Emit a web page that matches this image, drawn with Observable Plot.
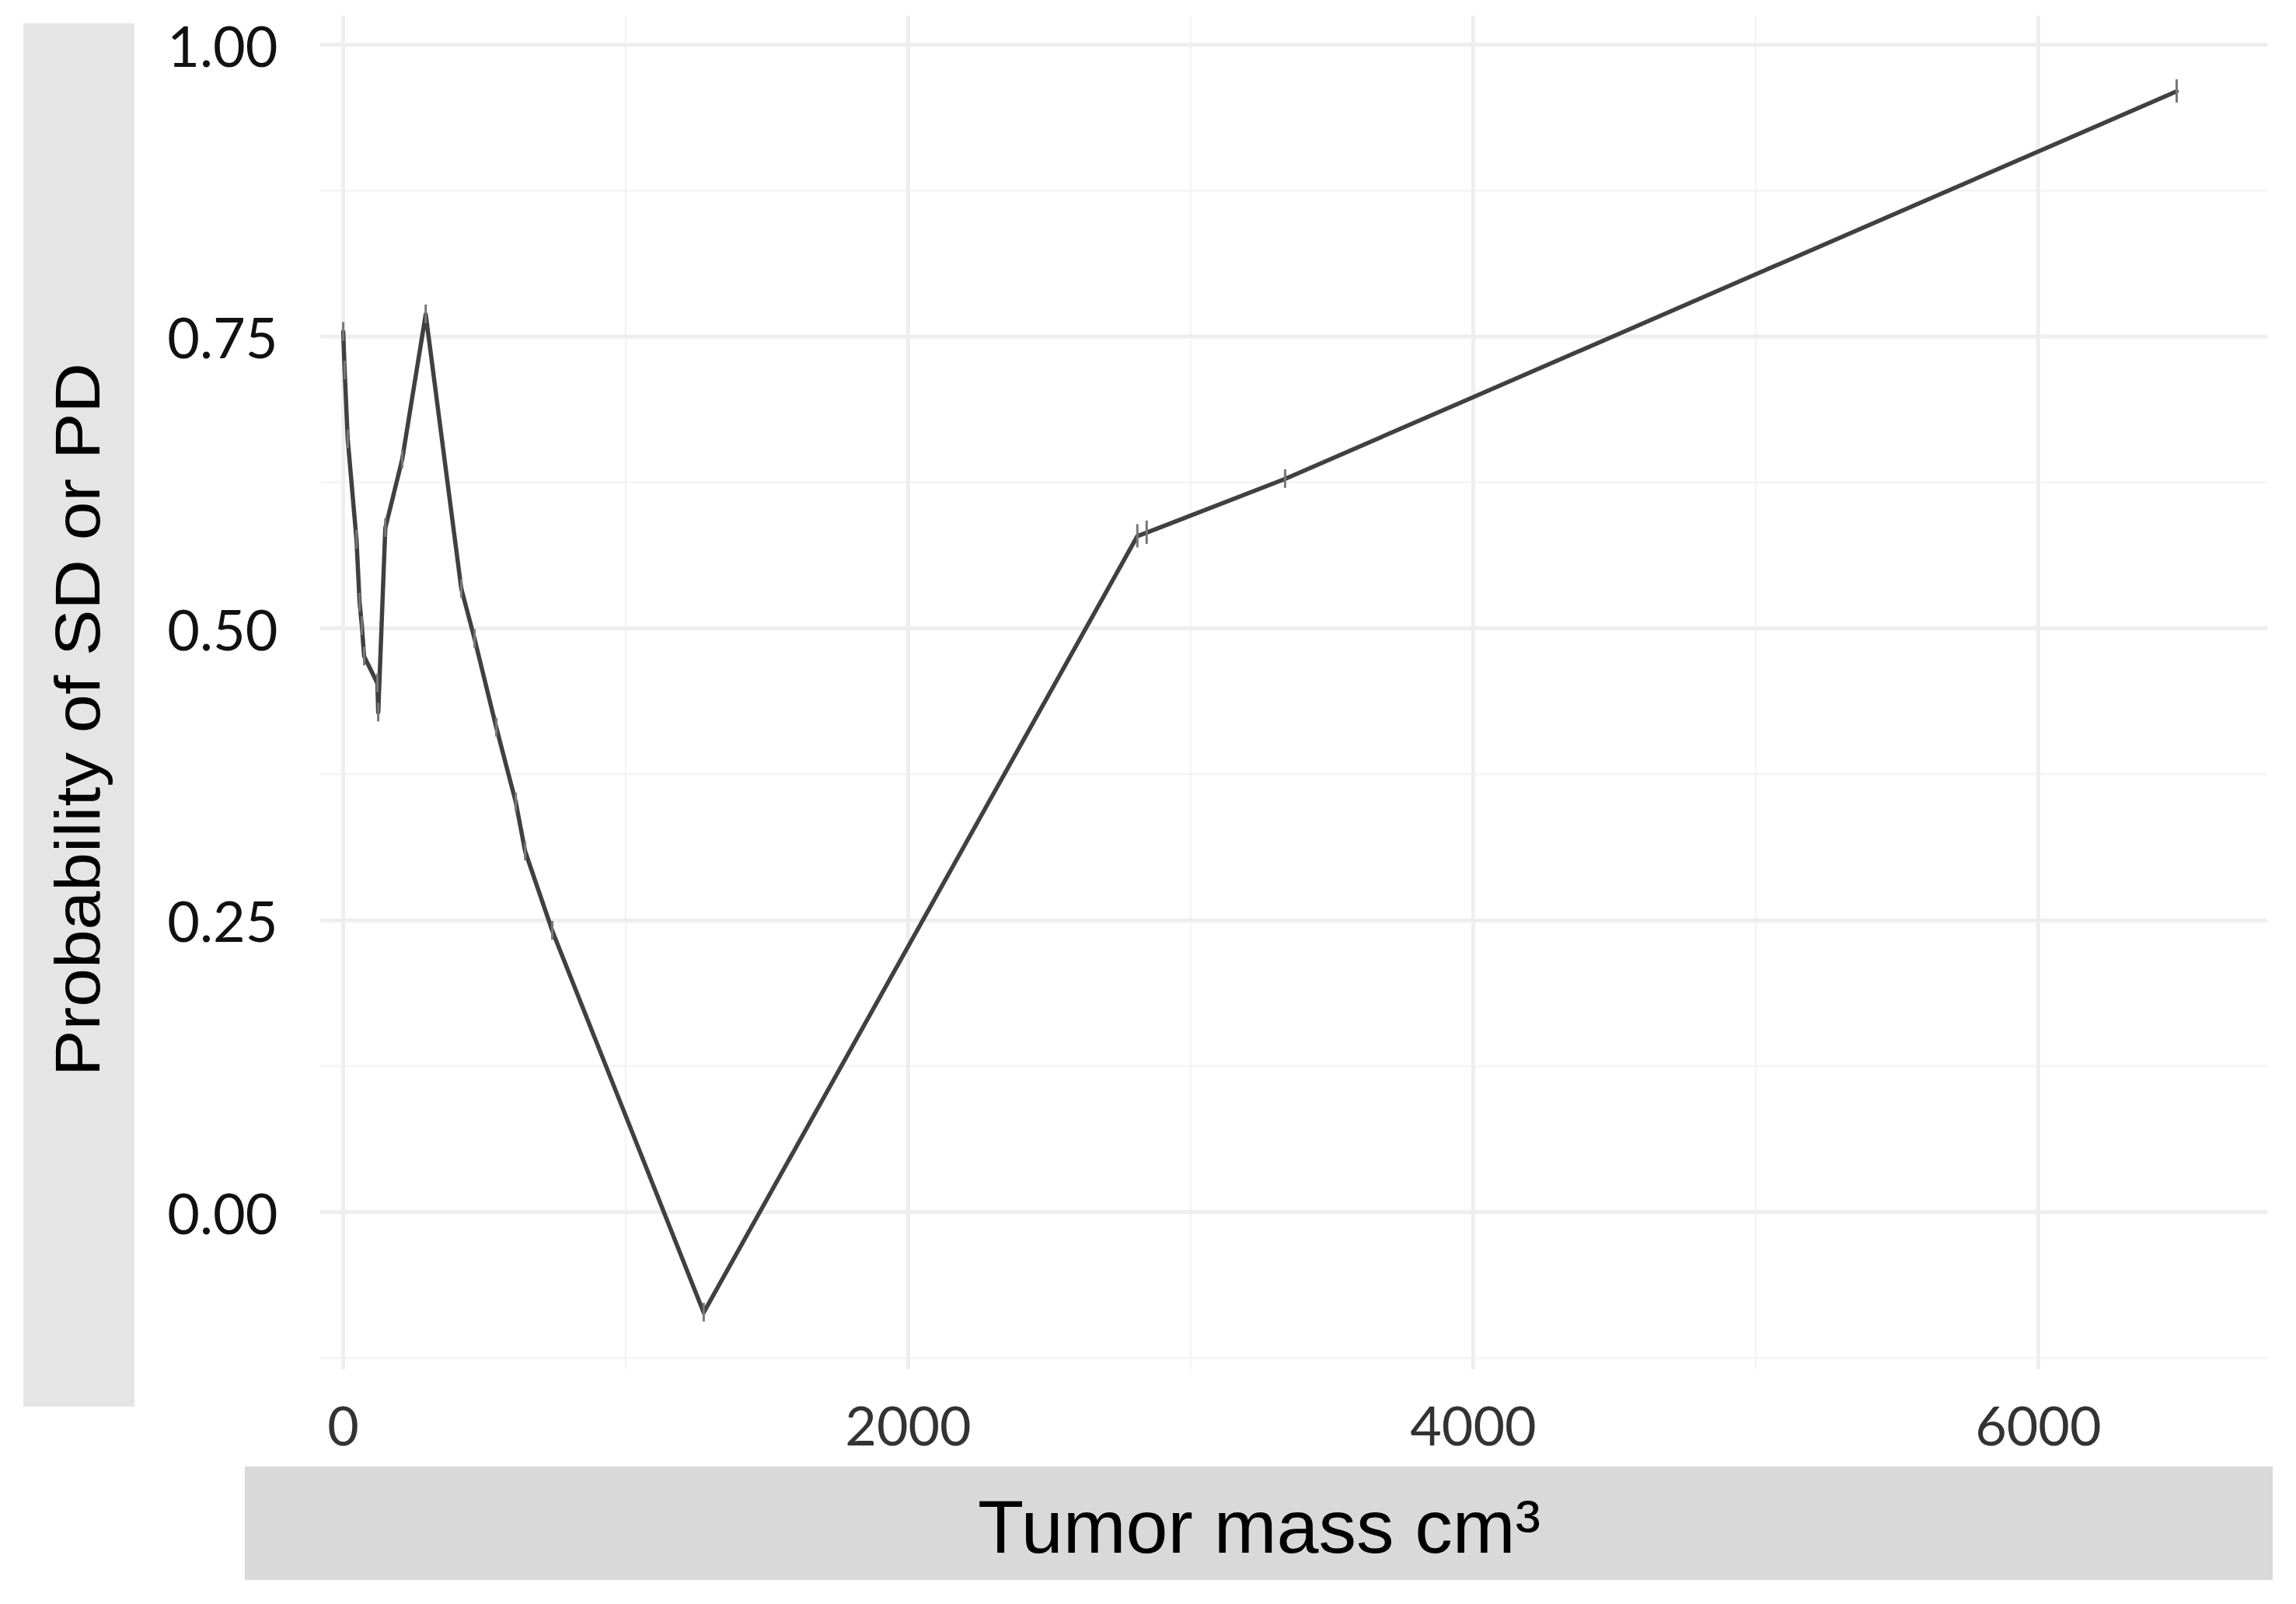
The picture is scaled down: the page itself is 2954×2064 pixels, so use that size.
<!DOCTYPE html>
<html>
<head>
<meta charset="utf-8">
<script src="https://cdn.jsdelivr.net/npm/d3@7"></script>
<script src="https://cdn.jsdelivr.net/npm/@observablehq/plot@0.6"></script>
<style>
  html, body { margin: 0; padding: 0; background: #ffffff; }
  #chart { position: relative; width: 2954px; height: 2064px; overflow: hidden; }
  #chart svg { display: block; }
</style>
</head>
<body>
<div id="chart"></div>
<script>
// ---- data ----
const tumorMass = [0, 5, 16, 47, 58, 66, 74, 121, 124, 149, 209, 292, 418, 465, 542, 611, 644, 740, 1276, 2811, 2844, 3334, 6490];
const probability = [0.754, 0.721, 0.662, 0.576, 0.522, 0.502, 0.476, 0.453, 0.428, 0.586, 0.645, 0.769, 0.534, 0.491, 0.415, 0.351, 0.309, 0.241, -0.086, 0.579, 0.582, 0.628, 0.960];
const errHalf = [0.008, 0.008, 0.008, 0.008, 0.008, 0.008, 0.008, 0.008, 0.008, 0.008, 0.008, 0.008, 0.008, 0.008, 0.008, 0.008, 0.008, 0.008, 0.008, 0.01, 0.01, 0.008, 0.01];

const xTicks = [0, 2000, 4000, 6000];
const xMinorTicks = [1000, 3000, 5000];
const yTicks = [0, 0.25, 0.5, 0.75, 1];
const yMinorTicks = [-0.125, 0.125, 0.375, 0.625, 0.875];

const xLabel = "Tumor mass cm³";
const yLabel = "Probability of SD or PD";

const data = tumorMass.map((x, i) => ({ x, y: probability[i], e: errHalf[i] }));

const W = 2954, H = 2064;

const plot = Plot.plot({
  width: W,
  height: H,
  marginLeft: 412,
  marginRight: 37,
  marginTop: 20,
  marginBottom: 302,
  x: { domain: [-80, 6812] },
  y: { domain: [-0.135, 1.0246] },
  style: { fontFamily: "Lato, sans-serif", background: "#ffffff", overflow: "visible" },
  marks: [
    Plot.gridX(xMinorTicks, { stroke: "#f4f4f4", strokeOpacity: 1, strokeWidth: 2.5 }),
    Plot.gridY(yMinorTicks, { stroke: "#f4f4f4", strokeOpacity: 1, strokeWidth: 2.5 }),
    Plot.gridX(xTicks, { stroke: "#eeeeee", strokeOpacity: 1, strokeWidth: 5 }),
    Plot.gridY(yTicks, { stroke: "#eeeeee", strokeOpacity: 1, strokeWidth: 5 }),
    Plot.axisX(xTicks, { tickSize: 0, tickPadding: 48, fontSize: 70, fill: "#333333", tickFormat: d3.format("d"), label: null }),
    Plot.axisY(yTicks, { tickSize: 0, tickPadding: 55, fontSize: 72, fill: "#111111", tickFormat: d3.format(".2f"), label: null, dy: 5 }),
    Plot.line(data, { x: "x", y: "y", stroke: "#404040", strokeWidth: 5.5, strokeLinejoin: "round" }),
    Plot.ruleX(data, { x: "x", y1: d => d.y - d.e, y2: d => d.y + d.e, stroke: "#777777", strokeWidth: 3 })
  ]
});

document.getElementById("chart").appendChild(plot);

// ---- axis title boxes (layout decoration) ----
const svg = d3.select(plot);

svg.append("rect")
  .attr("x", 30).attr("y", 30).attr("width", 143).attr("height", 1780)
  .attr("fill", "#e5e5e5");

svg.append("text")
  .attr("transform", "translate(128,926) rotate(-90)")
  .attr("text-anchor", "middle")
  .attr("font-family", "'Liberation Sans', Arial, sans-serif")
  .attr("font-size", 81)
  .attr("fill", "#000000")
  .attr("textLength", 918)
  .attr("lengthAdjust", "spacingAndGlyphs")
  .text(yLabel);

svg.append("rect")
  .attr("x", 315).attr("y", 1887).attr("width", 2609).attr("height", 146)
  .attr("fill", "#d9d9d9");

svg.append("text")
  .attr("x", 1620).attr("y", 1998)
  .attr("text-anchor", "middle")
  .attr("font-family", "'Liberation Sans', Arial, sans-serif")
  .attr("font-size", 97)
  .attr("fill", "#000000")
  .text(xLabel);
</script>
</body>
</html>
